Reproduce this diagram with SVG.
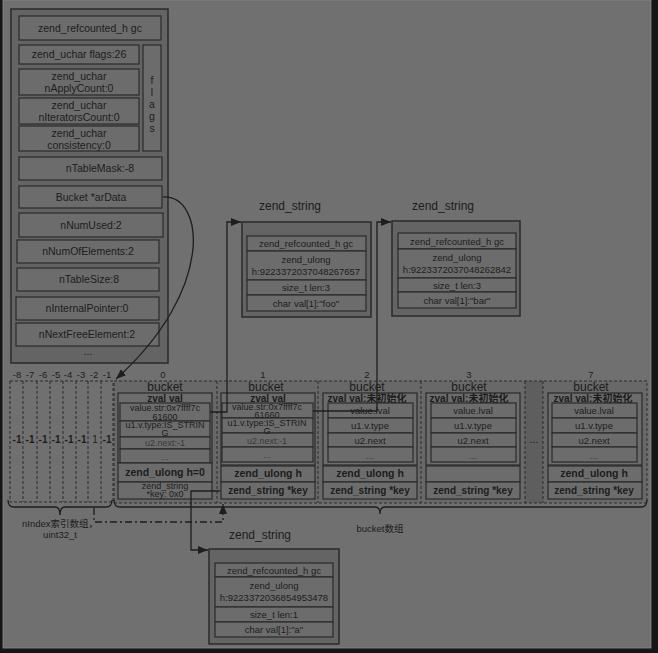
<svg xmlns="http://www.w3.org/2000/svg" width="658" height="653" viewBox="0 0 658 653">
<defs>
<style>
.t{font-family:"Liberation Sans","Noto Sans CJK SC",sans-serif;font-size:10.5px;fill:#1c1c1c;text-anchor:middle}
.s{font-size:9.5px}
.xs{font-size:9px}
.b{font-weight:bold}
.zv{font-size:10px}
.hb{font-size:10.5px}
.kb{font-size:10px}
.lt{fill:#383838}
.lbl{font-size:12px}
.bk{font-size:12px}
.outer{fill:#646464;stroke:#2a2a2a;stroke-width:1.5}
.row{fill:#6c6c6c;stroke:#2a2a2a;stroke-width:1.2}
.dash{fill:none;stroke:#2a2a2a;stroke-width:1;stroke-dasharray:3,2}
.ln{fill:none;stroke:#1e1e1e;stroke-width:1.3}
</style>
<marker id="ah" markerUnits="userSpaceOnUse" markerWidth="10" markerHeight="8" refX="10" refY="4" orient="auto">
<path d="M0,0 L10,4 L0,8 z" fill="#1e1e1e"/>
</marker>
</defs>
<rect x="0" y="0" width="658" height="653" fill="#161616"/>
<rect x="3" y="0" width="648" height="648" fill="#707070" stroke="#8a8a8a" stroke-width="0.8"/>

<g id="hashtable">
<rect class="outer" x="11" y="9" width="157" height="354"/>
<rect class="row" x="19" y="16" width="142" height="24"/>
<text class="t" x="90" y="32">zend_refcounted_h gc</text>
<rect class="row" x="19" y="45" width="120" height="19"/>
<text class="t" x="79" y="58">zend_uchar flags:26</text>
<rect class="row" x="19" y="69" width="120" height="26"/>
<text class="t" x="79" y="80">zend_uchar</text>
<text class="t" x="79" y="92">nApplyCount:0</text>
<rect class="row" x="19" y="98" width="120" height="26"/>
<text class="t" x="79" y="109">zend_uchar</text>
<text class="t" x="79" y="121">nIteratorsCount:0</text>
<rect class="row" x="19" y="126" width="120" height="25"/>
<text class="t" x="79" y="137">zend_uchar</text>
<text class="t" x="79" y="149">consistency:0</text>
<rect class="row" x="143" y="45" width="18" height="106"/>
<text class="t" x="152" y="84">f</text>
<text class="t" x="152" y="96">l</text>
<text class="t" x="152" y="108">a</text>
<text class="t" x="152" y="120">g</text>
<text class="t" x="152" y="132">s</text>
<rect class="row" x="19" y="157" width="143" height="23"/>
<text class="t" x="100" y="172">nTableMask:-8</text>
<rect class="row" x="19" y="186" width="143" height="22"/>
<text class="t" x="91" y="201">Bucket *arData</text>
<rect class="row" x="19" y="213" width="144" height="24"/>
<text class="t" x="91" y="229">nNumUsed:2</text>
<rect class="row" x="17" y="240" width="142" height="23"/>
<text class="t" x="88" y="255">nNumOfElements:2</text>
<rect class="row" x="17" y="268" width="142" height="23"/>
<text class="t" x="89" y="283">nTableSize:8</text>
<rect class="row" x="16" y="297" width="143" height="23"/>
<text class="t" x="87" y="312">nInternalPointer:0</text>
<rect class="row" x="16" y="323" width="143" height="23"/>
<text class="t" x="87" y="338">nNextFreeElement:2</text>
<text class="t" x="88" y="355">...</text>
</g>

<g id="str-foo">
<text class="t lbl" x="290" y="210">zend_string</text>
<rect class="outer" x="242" y="222" width="129" height="95"/>
<rect class="row" x="247" y="236" width="119" height="15"/>
<text class="t s" x="306" y="247">zend_refcounted_h gc</text>
<rect class="row" x="247" y="251" width="119" height="29"/>
<text class="t s" x="306" y="263">zend_ulong</text>
<text class="t s" x="306" y="275">h:9223372037048267657</text>
<rect class="row" x="247" y="280" width="119" height="15"/>
<text class="t s" x="306" y="291">size_t len:3</text>
<rect class="row" x="247" y="295" width="119" height="16"/>
<text class="t s" x="306" y="307">char val[1]:"foo"</text>
</g>

<g id="str-bar">
<text class="t lbl" x="443" y="210">zend_string</text>
<rect class="outer" x="392" y="221" width="128" height="95"/>
<rect class="row" x="398" y="233" width="118" height="16"/>
<text class="t s" x="457" y="245">zend_refcounted_h gc</text>
<rect class="row" x="398" y="249" width="118" height="29"/>
<text class="t s" x="457" y="261">zend_ulong</text>
<text class="t s" x="457" y="273">h:9223372037048262842</text>
<rect class="row" x="398" y="278" width="118" height="14"/>
<text class="t s" x="457" y="289">size_t len:3</text>
<rect class="row" x="398" y="292" width="118" height="16"/>
<text class="t s" x="457" y="304">char val[1]:"bar"</text>
</g>

<g id="str-a">
<text class="t lbl" x="260" y="539">zend_string</text>
<rect class="outer" x="209" y="549" width="130" height="95"/>
<rect class="row" x="215" y="563" width="118" height="14"/>
<text class="t s" x="274" y="574">zend_refcounted_h gc</text>
<rect class="row" x="215" y="577" width="118" height="30"/>
<text class="t s" x="274" y="589">zend_ulong</text>
<text class="t s" x="274" y="601">h:9223372036854953478</text>
<rect class="row" x="215" y="607" width="118" height="15"/>
<text class="t s" x="274" y="618">size_t len:1</text>
<rect class="row" x="215" y="622" width="118" height="15"/>
<text class="t s" x="274" y="633">char val[1]:"a"</text>
</g>

<g id="nindex">
<text class="t s" x="17" y="378">-8</text>
<text class="t s" x="30" y="378">-7</text>
<text class="t s" x="43" y="378">-6</text>
<text class="t s" x="56" y="378">-5</text>
<text class="t s" x="68" y="378">-4</text>
<text class="t s" x="81" y="378">-3</text>
<text class="t s" x="94" y="378">-2</text>
<text class="t s" x="107" y="378">-1</text>
<rect class="dash" x="10" y="381" width="103" height="121"/>
<path class="dash" d="M23,381V502M37,381V502M50,381V502M63,381V502M76,381V502M88,381V502M101,381V502"/>
<text class="t b kb" x="17" y="443">-1</text>
<text class="t b kb" x="30" y="443">-1</text>
<text class="t b kb" x="43" y="443">-1</text>
<text class="t b kb" x="56" y="443">-1</text>
<text class="t b kb" x="69" y="443">-1</text>
<text class="t b kb" x="82" y="443">-1</text>
<text class="t kb" x="95" y="443">1</text>
<text class="t b kb" x="107" y="443">-1</text>
<path class="ln" d="M8,500Q8,507 14,507H55Q60,507 60,515Q60,507 65,507H106Q112,507 112,500" stroke-width="1.1"/>
<text class="t s" x="60" y="527">nIndex索引数组，</text>
<text class="t s" x="60" y="538">uint32_t</text>
</g>

<g id="buckets">
<rect x="114" y="381" width="533" height="122" fill="#686868"/>
<rect x="525" y="381" width="18" height="122" fill="#5e5e5e"/>
<rect class="dash" x="114" y="381" width="533" height="122"/>
<path class="dash" d="M217,381V503M318,381V503M421,381V503M525,381V503M543,381V503"/>
<text class="t" x="534" y="443">...</text>
<path class="ln" d="M114,500Q114,507 120,507H375Q380,507 380,514Q380,507 385,507H641Q647,507 647,500" stroke-width="1.1"/>
<text class="t s" x="380" y="532">bucket数组</text>
</g>

<g id="bucket0">
<text class="t s" x="163" y="378">0</text>
<text class="t bk" x="165" y="391">bucket</text>
<rect class="row" x="118" y="393" width="94" height="70"/>
<text class="t b zv" x="165" y="402">zval val</text>
<rect class="row" x="120" y="403" width="90" height="18"/>
<rect class="row" x="120" y="421" width="90" height="16"/>
<rect class="row" x="120" y="437" width="90" height="12"/>
<rect class="row" x="120" y="449" width="90" height="14"/>
<text class="t xs" x="165" y="411">value.str:0x7ffff7c</text>
<text class="t xs" x="165" y="420">61600</text>
<text class="t xs" x="165" y="428">u1.v.type:IS_STRIN</text>
<text class="t xs" x="165" y="436">G</text>
<text class="t xs lt" x="165" y="446">u2.next:-1</text>
<text class="t xs lt" x="165" y="460">...</text>
<rect class="row" x="118" y="463" width="94" height="19"/>
<text class="t b hb" x="165" y="476">zend_ulong h=0</text>
<rect class="row" x="118" y="482" width="94" height="17"/>
<text class="t xs" x="165" y="489">zend_string</text>
<text class="t xs" x="165" y="497">*key: 0x0</text>
</g>

<g id="bucket1">
<text class="t s" x="263" y="378">1</text>
<text class="t bk" x="266" y="391">bucket</text>
<rect class="row" x="221" y="393" width="94" height="72"/>
<text class="t b zv" x="268" y="402">zval val</text>
<rect class="row" x="222" y="403" width="91" height="15"/>
<rect class="row" x="222" y="418" width="91" height="15"/>
<rect class="row" x="222" y="433" width="91" height="14"/>
<rect class="row" x="222" y="447" width="91" height="15"/>
<text class="t xs" x="267" y="410">value.str:0x7ffff7c</text>
<text class="t xs" x="267" y="418">61660</text>
<text class="t xs" x="267" y="426">u1.v.type:IS_STRIN</text>
<text class="t xs" x="267" y="434">G</text>
<text class="t xs lt" x="267" y="444">u2.next:-1</text>
<text class="t xs lt" x="267" y="458">...</text>
<rect class="row" x="221" y="466" width="94" height="16"/>
<text class="t b hb" x="268" y="477">zend_ulong h</text>
<rect class="row" x="221" y="482" width="94" height="17"/>
<text class="t b kb" x="268" y="494">zend_string *key</text>
</g>

<g id="bucket2">
<text class="t s" x="367" y="378">2</text>
<text class="t bk" x="367" y="391">bucket</text>
<rect class="row" x="323" y="393" width="94" height="72"/>
<text class="t b zv" x="367" y="402">zval val:未初始化</text>
<rect class="row" x="328" y="403" width="85" height="15"/>
<rect class="row" x="328" y="418" width="85" height="15"/>
<rect class="row" x="328" y="433" width="85" height="14"/>
<rect class="row" x="328" y="447" width="85" height="15"/>
<text class="t s" x="370" y="414">value.lval</text>
<text class="t s" x="370" y="429">u1.v.type</text>
<text class="t s" x="370" y="444">u2.next</text>
<text class="t s lt" x="370" y="459">...</text>
<rect class="row" x="323" y="466" width="94" height="16"/>
<text class="t b hb" x="370" y="477">zend_ulong h</text>
<rect class="row" x="323" y="482" width="94" height="17"/>
<text class="t b kb" x="370" y="494">zend_string *key</text>
</g>

<g id="bucket3">
<text class="t s" x="469" y="378">3</text>
<text class="t bk" x="469" y="391">bucket</text>
<rect class="row" x="426" y="393" width="94" height="72"/>
<text class="t b zv" x="469" y="402">zval val:未初始化</text>
<rect class="row" x="431" y="403" width="85" height="15"/>
<rect class="row" x="431" y="418" width="85" height="15"/>
<rect class="row" x="431" y="433" width="85" height="14"/>
<rect class="row" x="431" y="447" width="85" height="15"/>
<text class="t s" x="473" y="414">value.lval</text>
<text class="t s" x="473" y="429">u1.v.type</text>
<text class="t s" x="473" y="444">u2.next</text>
<text class="t s lt" x="473" y="459">...</text>
<rect class="row" x="426" y="466" width="94" height="16"/>
<rect class="row" x="426" y="482" width="94" height="17"/>
<text class="t b kb" x="473" y="494">zend_string *key</text>
</g>

<g id="bucket7">
<text class="t s" x="591" y="378">7</text>
<text class="t bk" x="591" y="391">bucket</text>
<rect class="row" x="548" y="393" width="94" height="72"/>
<text class="t b zv" x="593" y="402">zval val:未初始化</text>
<rect class="row" x="552" y="403" width="85" height="15"/>
<rect class="row" x="552" y="418" width="85" height="15"/>
<rect class="row" x="552" y="433" width="85" height="14"/>
<rect class="row" x="552" y="447" width="85" height="15"/>
<text class="t s" x="594" y="414">value.lval</text>
<text class="t s" x="594" y="429">u1.v.type</text>
<text class="t s" x="594" y="444">u2.next</text>
<text class="t s lt" x="594" y="459">...</text>
<rect class="row" x="548" y="466" width="94" height="16"/>
<text class="t b hb" x="594" y="477">zend_ulong h</text>
<rect class="row" x="548" y="482" width="94" height="17"/>
<text class="t b kb" x="594" y="494">zend_string *key</text>
</g>

<g id="connectors">
<path class="ln" d="M163,197C205,195 215,290 116,379" marker-end="url(#ah)"/>
<path class="ln" d="M210,412H227V222H241" marker-end="url(#ah)"/>
<path class="ln" d="M313,411H377V222H391" marker-end="url(#ah)"/>
<path class="ln" d="M220,491H191V550H208" marker-end="url(#ah)"/>
<path class="ln" d="M94,508V522H223V504" stroke-dasharray="7,3,2,3" marker-end="url(#ah)"/>
</g>
</svg>
